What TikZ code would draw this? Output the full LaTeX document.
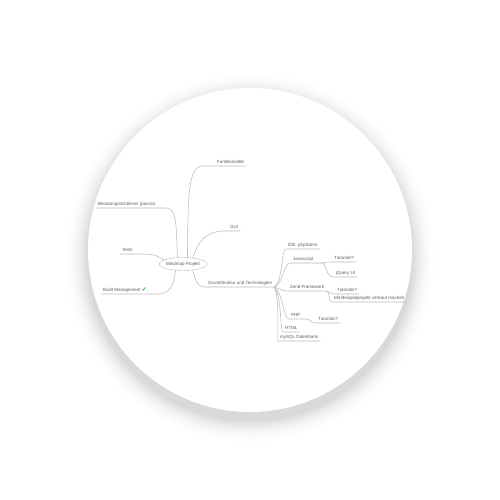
\documentclass[tikz,border=0pt]{standalone}
\usepackage{fontspec}
\setmainfont{Liberation Sans}
\newfontfamily\symfont{DejaVu Sans}
\usetikzlibrary{shapes.geometric}
\definecolor{txt}{HTML}{5C5C5C}
\definecolor{ln}{HTML}{BBBBBB}
\definecolor{chk}{HTML}{22BB22}
\begin{document}
\begin{tikzpicture}[x=1pt,y=-1pt,
  leaf/.style={anchor=south west, font=\fontsize{4.5}{5}\selectfont, text=txt, inner xsep=2pt, inner ysep=1.1pt, text height=3.3pt, text depth=0.9pt},
  conn/.style={draw=ln, line width=0.55pt},
  rootnode/.style={draw=ln, fill=white, ellipse, minimum width=38pt, minimum height=13pt, inner sep=0pt, font=\fontsize{4.5}{5}\selectfont, text=txt}
]
\fill[white] (0,0) rectangle (500,500);
\useasboundingbox (0,0) rectangle (500,500);
% soft shadow
\foreach \i in {0,...,49}{
  \pgfmathsetmacro\k{15*((\i+1)/50)^2.2}
  \pgfmathsetmacro\r{187-0.5*\i}
  \fill[black!\k] (250,258) circle[radius=\r pt];
}
\fill[white] (250,250) circle[radius=162pt];

\node[rootnode] (root) at (183,264) {Mindmap Projekt};

\node[leaf] (funk) at (215,166) {Funktionalität};
\node[leaf] (benot) at (96,208) {Benotungsrichtlinien (passiv)};
\node[leaf] (tests) at (120,254) {Tests};
\node[leaf] (build) at (101,294) {Build Management {\symfont\fontsize{6}{6}\selectfont\textcolor{chk}{✔}}};
\node[leaf] (gui) at (228,231) {GUI};
\node[leaf] (grund) at (206,287) {Grundstruktur und Technologien};
\node[leaf] (ide) at (286,249) {IDE: phpStorm};
\node[leaf] (js) at (291,263) {Javascript};
\coordinate (jsend) at ([xshift=6pt]js.south east);
\node[leaf] (jt) at (332,262) {Tutorials?};
\node[leaf] (jq) at (334,277) {jQuery UI};
\node[leaf] (zend) at (288,291) {Zend Framework};
\node[leaf] (zt) at (335,294) {Tutorials?};
\node[leaf] (zm) at (332,302) {Mit Beispielprojekt vertraut machen};
\node[leaf] (php) at (289,319) {PHP};
\coordinate (phpend) at ([xshift=3pt]php.south east);
\node[leaf] (pt) at (316,323) {Tutorials?};
\node[leaf] (html) at (283,332) {HTML};
\node[leaf] (sql) at (278,341) {mySQL Datenbank};

% main branches
\draw[conn] (root.56) .. controls (188,195) and (188,166) .. ([xshift=-12pt]funk.south west) -- (funk.south east);
\draw[conn] (root.130) .. controls (176,225) and (177,208) .. ([xshift=8pt]benot.south east) -- (benot.south west);
\draw[conn] (root.168) .. controls (155,254) and (150,254) .. ([xshift=6pt]tests.south east) -- (tests.south west);
\draw[conn] (root.221) .. controls (173,288) and (170,294) .. ([xshift=6pt]build.south east) -- (build.south west);
\draw[conn] (root.32) .. controls (198,240) and (208,231) .. ([xshift=-4pt]gui.south west) -- (gui.south east);
\draw[conn] (root.-32) .. controls (196,284) and (199,287) .. ([xshift=-1pt]grund.south west) -- (grund.south east);

% technology branches
\draw[conn] (grund.south east) .. controls (283,282) and (281,249) .. (ide.south west) -- (ide.south east);
\draw[conn] (grund.south east) .. controls (284,282) and (283,263) .. (js.south west) -- (jsend);
\draw[conn] (jsend) .. controls (325,263) and (323,262) .. (jt.south west) -- (jt.south east);
\draw[conn] (jsend) .. controls (327,263) and (325,277) .. (jq.south west) -- (jq.south east);
\draw[conn] (grund.south east) .. controls (281,289) and (282,291) .. (zend.south west) -- (zend.south east);
\draw[conn] (zend.south east) .. controls (330,291) and (329,294) .. (zt.south west) -- (zt.south east);
\draw[conn] (zend.south east) .. controls (331,291) and (327,302) .. (zm.south west) -- (zm.south east);
\draw[conn] (grund.south east) .. controls (284,295) and (283,319) .. (php.south west) -- (phpend);
\draw[conn] (phpend) .. controls (311,319) and (310,323) .. (pt.south west) -- (pt.south east);
\draw[conn] (grund.south east) .. controls (282,298) and (280,332) .. (html.south west) -- (html.south east);
\draw[conn] (grund.south east) .. controls (280,300) and (277,341) .. (sql.south west) -- (sql.south east);
\end{tikzpicture}
\end{document}
